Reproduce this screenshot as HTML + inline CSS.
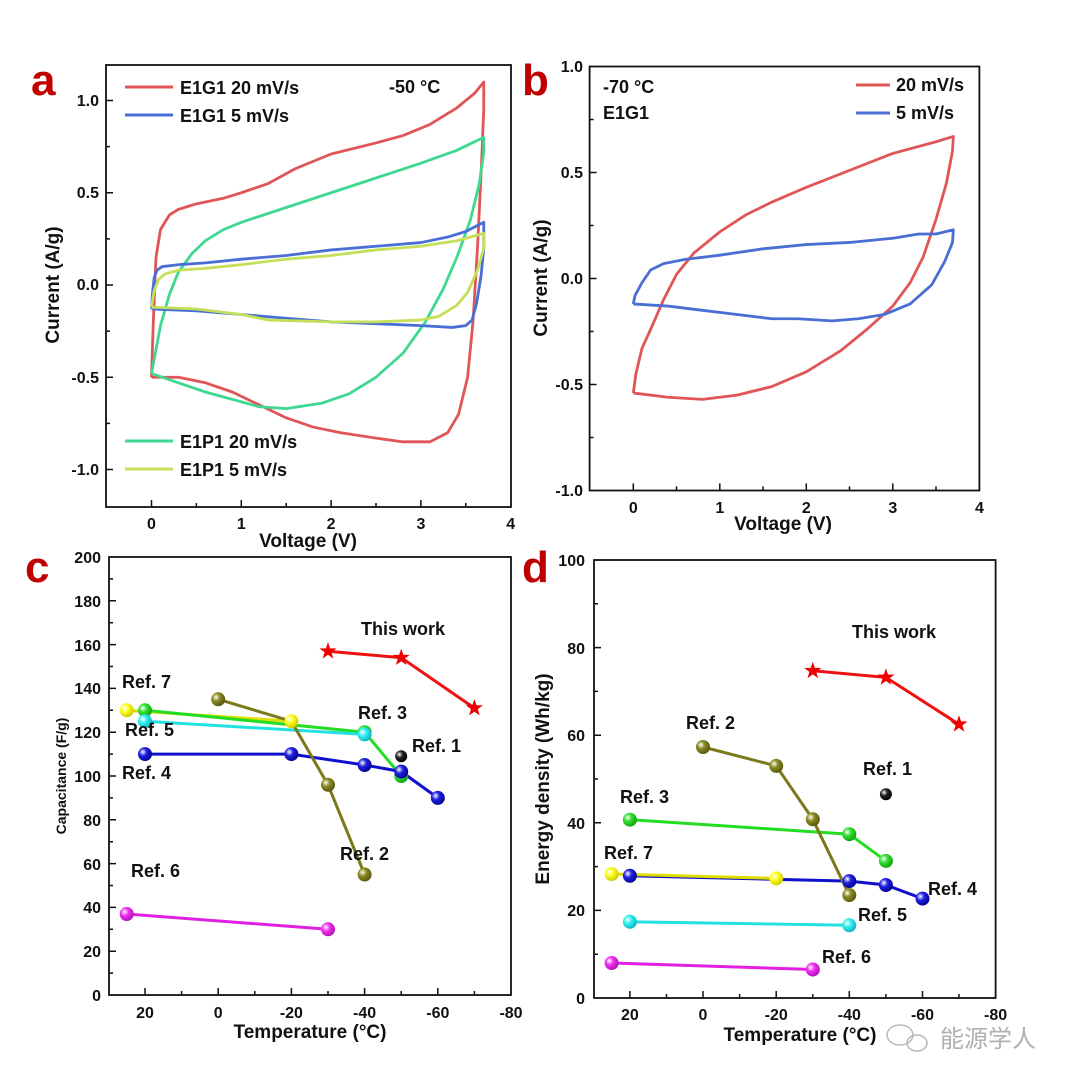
<!DOCTYPE html>
<html><head><meta charset="utf-8"><style>
html,body{margin:0;padding:0;background:#fff}
svg{display:block;font-family:"Liberation Sans",Arial,sans-serif;font-weight:bold}
.t{font-size:16px;fill:#111}
.ax{font-size:19px;fill:#111}
.lg{font-size:18px;fill:#111}
.pl{font-size:44px;fill:#c00000;font-weight:bold}
.fr{fill:none;stroke:#111;stroke-width:1.8}
.tk{fill:none;stroke:#111;stroke-width:1.5}
.cv{fill:none;stroke-width:2.8;vector-effect:non-scaling-stroke;stroke-linejoin:round}
.sl{fill:none;stroke-width:3}
</style></head><body>
<svg width="1080" height="1084" viewBox="0 0 1080 1084" xmlns="http://www.w3.org/2000/svg">
<defs>
<radialGradient id="gY" cx="0.35" cy="0.35" r="0.7"><stop offset="0" stop-color="#fff"/><stop offset="0.4" stop-color="#ffff20"/><stop offset="1" stop-color="#c8c800"/></radialGradient>
<radialGradient id="gG" cx="0.35" cy="0.35" r="0.7"><stop offset="0" stop-color="#fff"/><stop offset="0.4" stop-color="#30e030"/><stop offset="1" stop-color="#10a010"/></radialGradient>
<radialGradient id="gC" cx="0.35" cy="0.35" r="0.7"><stop offset="0" stop-color="#fff"/><stop offset="0.4" stop-color="#30f0f0"/><stop offset="1" stop-color="#10b0c0"/></radialGradient>
<radialGradient id="gB" cx="0.35" cy="0.35" r="0.7"><stop offset="0" stop-color="#fff"/><stop offset="0.4" stop-color="#2020e0"/><stop offset="1" stop-color="#000090"/></radialGradient>
<radialGradient id="gO" cx="0.35" cy="0.35" r="0.7"><stop offset="0" stop-color="#fff"/><stop offset="0.4" stop-color="#8a8a20"/><stop offset="1" stop-color="#555510"/></radialGradient>
<radialGradient id="gK" cx="0.35" cy="0.35" r="0.7"><stop offset="0" stop-color="#fff"/><stop offset="0.4" stop-color="#222"/><stop offset="1" stop-color="#000"/></radialGradient>
<radialGradient id="gM" cx="0.35" cy="0.35" r="0.7"><stop offset="0" stop-color="#fff"/><stop offset="0.4" stop-color="#f030f0"/><stop offset="1" stop-color="#b010b0"/></radialGradient>
<symbol id="st" viewBox="-10 -10 20 20" overflow="visible"><polygon points="0,-10 2.35,-3.2 9.5,-3.1 3.8,1.2 5.9,8.1 0,4 -5.9,8.1 -3.8,1.2 -9.5,-3.1 -2.35,-3.2" fill="#ee0000"/></symbol>
</defs>

<!-- ============ PANEL A ============ -->
<text class="pl" x="31" y="95">a</text>
<rect class="fr" x="106" y="65" width="405" height="442"/>
<path class="tk" d="M106 100.5h7M106 192.75h7M106 285h7M106 377.25h7M106 469.5h7M106 146.6h4M106 238.9h4M106 331.1h4M106 423.4h4
M151.5 507v-7M241.3 507v-7M331.1 507v-7M420.9 507v-7M196.4 507v-4M286.2 507v-4M376 507v-4M465.8 507v-4"/>
<g class="t" text-anchor="end">
<text x="99" y="106">1.0</text><text x="99" y="198">0.5</text><text x="99" y="290">0.0</text><text x="99" y="383">-0.5</text><text x="99" y="475">-1.0</text>
</g>
<g class="t" text-anchor="middle">
<text x="151.5" y="529">0</text><text x="241.3" y="529">1</text><text x="331.1" y="529">2</text><text x="420.9" y="529">3</text><text x="510.7" y="529">4</text>
</g>
<text class="ax" x="308" y="547" text-anchor="middle">Voltage (V)</text>
<text class="ax" transform="translate(59,285) rotate(-90)" text-anchor="middle">Current (A/g)</text>
<g transform="matrix(89.8 0 0 -184.5 151.5 285)">
<polyline class="cv" stroke="#e05555" points="0,-0.5 0.02,-0.2 0.05,0.15 0.1,0.3 0.2,0.38 0.3,0.41 0.5,0.44 0.8,0.47 1,0.5 1.3,0.55 1.6,0.63 2,0.71 2.5,0.77 2.8,0.81 3.1,0.87 3.4,0.96 3.6,1.04 3.7,1.1 3.7,0.95 3.67,0.6 3.63,0.2 3.58,-0.2 3.52,-0.5 3.42,-0.7 3.3,-0.8 3.1,-0.85 2.8,-0.85 2.5,-0.83 2.1,-0.8 1.8,-0.77 1.5,-0.72 1.2,-0.65 0.9,-0.58 0.6,-0.53 0.3,-0.5 0,-0.5"/>
<polyline class="cv" stroke="#3ed891" points="0,-0.48 0.05,-0.35 0.1,-0.22 0.2,-0.05 0.3,0.07 0.45,0.17 0.6,0.24 0.8,0.3 1,0.34 1.5,0.42 2,0.5 2.5,0.58 3,0.66 3.4,0.73 3.7,0.8 3.7,0.72 3.65,0.55 3.55,0.35 3.4,0.15 3.25,-0.02 3.05,-0.2 2.8,-0.37 2.5,-0.5 2.2,-0.59 1.9,-0.64 1.5,-0.67 1.2,-0.66 0.9,-0.62 0.6,-0.58 0.3,-0.53 0,-0.48"/>
<polyline class="cv" stroke="#4a6fd4" points="0,-0.13 0.01,-0.05 0.03,0.04 0.06,0.08 0.12,0.1 0.3,0.11 0.6,0.12 1,0.14 1.5,0.16 2,0.19 2.5,0.21 3,0.23 3.3,0.26 3.5,0.29 3.7,0.34 3.7,0.2 3.67,0.05 3.62,-0.1 3.57,-0.19 3.5,-0.22 3.35,-0.23 3,-0.22 2.5,-0.21 2,-0.2 1.5,-0.18 1,-0.16 0.5,-0.14 0,-0.13"/>
<polyline class="cv" stroke="#c4e05a" points="0,-0.12 0.03,-0.03 0.08,0.03 0.15,0.06 0.3,0.08 0.6,0.09 1,0.11 1.5,0.14 2,0.16 2.5,0.19 3,0.21 3.4,0.24 3.7,0.28 3.7,0.2 3.63,0.08 3.52,-0.04 3.4,-0.11 3.2,-0.17 3,-0.19 2.5,-0.2 2,-0.2 1.3,-0.19 1,-0.16 0.5,-0.13 0,-0.12"/>
</g>
<line class="sl" x1="125" y1="87" x2="173" y2="87" stroke="#e05555"/>
<line class="sl" x1="125" y1="115" x2="173" y2="115" stroke="#4a6fd4"/>
<text class="lg" x="180" y="94">E1G1  20 mV/s</text>
<text class="lg" x="180" y="122">E1G1  5 mV/s</text>
<text class="lg" x="389" y="93">-50 °C</text>
<line class="sl" x1="125" y1="441" x2="173" y2="441" stroke="#3ed891"/>
<line class="sl" x1="125" y1="469" x2="173" y2="469" stroke="#c4e05a"/>
<text class="lg" x="180" y="448">E1P1  20 mV/s</text>
<text class="lg" x="180" y="476">E1P1  5 mV/s</text>

<!-- ============ PANEL B ============ -->
<text class="pl" x="522" y="95">b</text>
<rect class="fr" x="589.6" y="66.5" width="389.8" height="424"/>
<path class="tk" d="M589.6 172.5h7M589.6 278.5h7M589.6 384.5h7M589.6 119.5h4M589.6 225.5h4M589.6 331.5h4M589.6 437.5h4
M633.3 490.4v-7M719.8 490.4v-7M806.3 490.4v-7M892.8 490.4v-7M676.5 490.4v-4M763 490.4v-4M849.5 490.4v-4M936 490.4v-4"/>
<g class="t" text-anchor="end">
<text x="583" y="72">1.0</text><text x="583" y="178">0.5</text><text x="583" y="284">0.0</text><text x="583" y="390">-0.5</text><text x="583" y="496">-1.0</text>
</g>
<g class="t" text-anchor="middle">
<text x="633.3" y="513">0</text><text x="719.8" y="513">1</text><text x="806.3" y="513">2</text><text x="892.8" y="513">3</text><text x="979.4" y="513">4</text>
</g>
<text class="ax" x="783" y="530" text-anchor="middle">Voltage (V)</text>
<text class="ax" transform="translate(547,278) rotate(-90)" text-anchor="middle">Current (A/g)</text>
<g transform="matrix(86.5 0 0 -212 633.3 278.5)">
<polyline class="cv" stroke="#e05555" points="0,-0.54 0.03,-0.45 0.1,-0.33 0.2,-0.24 0.35,-0.1 0.5,0.02 0.7,0.12 1,0.22 1.3,0.3 1.6,0.36 2,0.43 2.5,0.51 3,0.59 3.5,0.645 3.7,0.67 3.69,0.6 3.62,0.45 3.5,0.28 3.35,0.1 3.2,-0.02 3,-0.13 2.7,-0.24 2.4,-0.34 2,-0.44 1.6,-0.51 1.2,-0.55 0.8,-0.57 0.4,-0.56 0,-0.54"/>
<polyline class="cv" stroke="#4a6fd4" points="0,-0.12 0.02,-0.08 0.1,-0.02 0.2,0.04 0.35,0.07 0.6,0.09 1,0.11 1.5,0.14 2,0.16 2.5,0.17 3,0.19 3.3,0.21 3.5,0.21 3.7,0.23 3.69,0.17 3.6,0.08 3.45,-0.03 3.2,-0.12 2.9,-0.17 2.6,-0.19 2.3,-0.2 1.9,-0.19 1.6,-0.19 1.2,-0.17 0.8,-0.15 0.4,-0.13 0,-0.12"/>
</g>
<text class="lg" x="603" y="93">-70 °C</text>
<text class="lg" x="603" y="119">E1G1</text>
<line class="sl" x1="856" y1="85" x2="890" y2="85" stroke="#e05555"/>
<line class="sl" x1="856" y1="113" x2="890" y2="113" stroke="#4a6fd4"/>
<text class="lg" x="896" y="91">20 mV/s</text>
<text class="lg" x="896" y="119">5 mV/s</text>

<!-- ============ PANEL C ============ -->
<text class="pl" x="25" y="582">c</text>
<rect class="fr" x="109" y="557" width="402" height="438"/>
<path class="tk" d="M109 951.2h7M109 907.4h7M109 863.6h7M109 819.8h7M109 776h7M109 732.2h7M109 688.4h7M109 644.6h7M109 600.8h7
M109 973.1h4M109 929.3h4M109 885.5h4M109 841.7h4M109 797.9h4M109 754.1h4M109 710.3h4M109 666.5h4M109 622.7h4M109 578.9h4
M145 995v-7M218.2 995v-7M291.4 995v-7M364.6 995v-7M437.8 995v-7M181.6 995v-4M254.8 995v-4M328 995v-4M401.2 995v-4M474.4 995v-4"/>
<g class="t" text-anchor="end">
<text x="101" y="1001">0</text><text x="101" y="957">20</text><text x="101" y="913">40</text><text x="101" y="870">60</text><text x="101" y="826">80</text><text x="101" y="782">100</text><text x="101" y="738">120</text><text x="101" y="694">140</text><text x="101" y="651">160</text><text x="101" y="607">180</text><text x="101" y="563">200</text>
</g>
<g class="t" text-anchor="middle">
<text x="145" y="1018">20</text><text x="218.2" y="1018">0</text><text x="291.4" y="1018">-20</text><text x="364.6" y="1018">-40</text><text x="437.8" y="1018">-60</text><text x="511" y="1018">-80</text>
</g>
<text class="ax" x="310" y="1038" text-anchor="middle">Temperature (°C)</text>
<text transform="translate(66,776) rotate(-90)" text-anchor="middle" style="font-size:14px;fill:#111">Capacitance (F/g)</text>
<g stroke-width="3" fill="none">
<polyline stroke="#ee1111" points="328,651.2 401.2,657.7 474.4,708.1"/>
<polyline stroke="#dddd00" points="126.7,710.3 291.4,721.25"/>
<polyline stroke="#22dd22" points="145,710.3 364.6,732.2 401.2,776"/>
<polyline stroke="#22e0e0" points="145,721.25 364.6,734.4"/>
<polyline stroke="#1010cc" points="145,754.1 291.4,754.1 364.6,765 401.2,771.6 437.8,797.9"/>
<polyline stroke="#7a7a1a" points="218.2,699.3 291.4,721.25 328,784.8 364.6,874.5"/>
<polyline stroke="#e020e0" points="126.7,914 328,929.3"/>
</g>
<g>
<circle cx="145" cy="710.3" r="7" fill="url(#gG)"/><circle cx="364.6" cy="732.2" r="7" fill="url(#gG)"/><circle cx="401.2" cy="776" r="7" fill="url(#gG)"/>
<circle cx="126.7" cy="710.3" r="7" fill="url(#gY)"/><circle cx="291.4" cy="721.25" r="7" fill="url(#gY)"/>
<circle cx="145" cy="721.25" r="7" fill="url(#gC)"/><circle cx="364.6" cy="734.4" r="7" fill="url(#gC)"/>
<circle cx="145" cy="754.1" r="7" fill="url(#gB)"/><circle cx="291.4" cy="754.1" r="7" fill="url(#gB)"/><circle cx="364.6" cy="765" r="7" fill="url(#gB)"/><circle cx="401.2" cy="771.6" r="7" fill="url(#gB)"/><circle cx="437.8" cy="797.9" r="7" fill="url(#gB)"/>
<circle cx="218.2" cy="699.3" r="7" fill="url(#gO)"/><circle cx="328" cy="784.8" r="7" fill="url(#gO)"/><circle cx="364.6" cy="874.5" r="7" fill="url(#gO)"/>
<circle cx="401.2" cy="756.3" r="6" fill="url(#gK)"/>
<circle cx="126.7" cy="914" r="7" fill="url(#gM)"/><circle cx="328" cy="929.3" r="7" fill="url(#gM)"/>
<use href="#st" x="319" y="642.2" width="18" height="18"/><use href="#st" x="392.2" y="648.7" width="18" height="18"/><use href="#st" x="465.4" y="699.1" width="18" height="18"/>
</g>
<g class="lg">
<text x="361" y="635">This work</text>
<text x="122" y="688">Ref. 7</text>
<text x="358" y="719">Ref. 3</text>
<text x="125" y="736">Ref. 5</text>
<text x="412" y="752">Ref. 1</text>
<text x="122" y="779">Ref. 4</text>
<text x="340" y="860">Ref. 2</text>
<text x="131" y="877">Ref. 6</text>
</g>

<!-- ============ PANEL D ============ -->
<text class="pl" x="522" y="582">d</text>
<rect class="fr" x="594" y="560" width="401.6" height="438"/>
<path class="tk" d="M594 910.4h7M594 822.8h7M594 735.2h7M594 647.6h7M594 954.2h4M594 866.6h4M594 779h4M594 691.4h4M594 603.8h4
M629.9 998v-7M703 998v-7M776.2 998v-7M849.3 998v-7M922.5 998v-7M666.5 998v-4M739.6 998v-4M812.8 998v-4M885.9 998v-4M959 998v-4"/>
<g class="t" text-anchor="end">
<text x="585" y="1004">0</text><text x="585" y="916">20</text><text x="585" y="829">40</text><text x="585" y="741">60</text><text x="585" y="654">80</text><text x="585" y="566">100</text>
</g>
<g class="t" text-anchor="middle">
<text x="629.9" y="1020">20</text><text x="703" y="1020">0</text><text x="776.2" y="1020">-20</text><text x="849.3" y="1020">-40</text><text x="922.5" y="1020">-60</text><text x="995.6" y="1020">-80</text>
</g>
<text class="ax" x="800" y="1041" text-anchor="middle">Temperature (°C)</text>
<text class="ax" transform="translate(549,779) rotate(-90)" text-anchor="middle">Energy density (Wh/kg)</text>
<g stroke-width="3" fill="none">
<polyline stroke="#ee1111" points="812.8,670.8 885.9,677.4 959,724.3"/>
<polyline stroke="#22dd22" points="629.9,819.7 849.3,834.2 885.9,860.9"/>
<polyline stroke="#1010cc" points="629.9,875.8 849.3,881.1 885.9,885 922.5,898.6"/>
<polyline stroke="#dddd00" points="611.6,874 776.2,878.4"/>
<polyline stroke="#7a7a1a" points="703,747 776.2,765.9 812.8,819.3 849.3,895.1"/>
<polyline stroke="#22e0e0" points="629.9,921.8 849.3,925.3"/>
<polyline stroke="#e020e0" points="611.6,963 812.8,969.5"/>
</g>
<g>
<circle cx="629.9" cy="819.7" r="7" fill="url(#gG)"/><circle cx="849.3" cy="834.2" r="7" fill="url(#gG)"/><circle cx="885.9" cy="860.9" r="7" fill="url(#gG)"/>
<circle cx="629.9" cy="875.8" r="7" fill="url(#gB)"/><circle cx="849.3" cy="881.1" r="7" fill="url(#gB)"/><circle cx="885.9" cy="885" r="7" fill="url(#gB)"/><circle cx="922.5" cy="898.6" r="7" fill="url(#gB)"/>
<circle cx="611.6" cy="874" r="7" fill="url(#gY)"/><circle cx="776.2" cy="878.4" r="7" fill="url(#gY)"/>
<circle cx="703" cy="747" r="7" fill="url(#gO)"/><circle cx="776.2" cy="765.9" r="7" fill="url(#gO)"/><circle cx="812.8" cy="819.3" r="7" fill="url(#gO)"/><circle cx="849.3" cy="895.1" r="7" fill="url(#gO)"/>
<circle cx="629.9" cy="921.8" r="7" fill="url(#gC)"/><circle cx="849.3" cy="925.3" r="7" fill="url(#gC)"/>
<circle cx="611.6" cy="963" r="7" fill="url(#gM)"/><circle cx="812.8" cy="969.5" r="7" fill="url(#gM)"/>
<circle cx="885.9" cy="794.3" r="6" fill="url(#gK)"/>
<use href="#st" x="803.8" y="661.8" width="18" height="18"/><use href="#st" x="876.9" y="668.4" width="18" height="18"/><use href="#st" x="950" y="715.3" width="18" height="18"/>
</g>
<g class="lg">
<text x="852" y="638">This work</text>
<text x="686" y="729">Ref. 2</text>
<text x="863" y="775">Ref. 1</text>
<text x="620" y="803">Ref. 3</text>
<text x="604" y="859">Ref. 7</text>
<text x="928" y="895">Ref. 4</text>
<text x="858" y="921">Ref. 5</text>
<text x="822" y="963">Ref. 6</text>
</g>
<text x="940" y="1047" style="font-size:24px;font-weight:normal;fill:#b0b0b0;font-family:'Liberation Sans','Noto Sans CJK SC',sans-serif">能源学人</text>
<g fill="none" stroke="#b8b8b8" stroke-width="1.5"><ellipse cx="900" cy="1035" rx="13" ry="10"/><ellipse cx="917" cy="1043" rx="10" ry="8"/></g>
</svg>
</body></html>
